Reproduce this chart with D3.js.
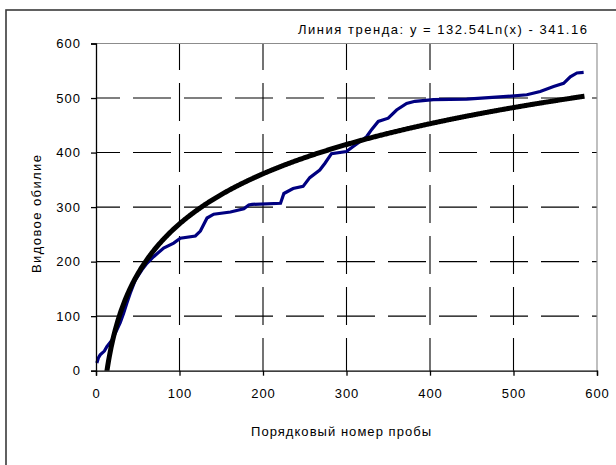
<!DOCTYPE html>
<html>
<head>
<meta charset="utf-8">
<script src="https://cdn.jsdelivr.net/npm/d3@7"></script>
<style>
  html, body { margin: 0; padding: 0; background: #fff; }
  svg { display: block; }
  text { font-family: "Liberation Sans", Arial, sans-serif; fill: #000; }
</style>
</head>
<body>
<svg id="chart" width="616" height="465"></svg>
<script>
// Cumulative species count by sample number
const sampleNo = [1, 3, 5, 10, 13, 19, 25, 29, 33, 37, 41, 47, 55, 61, 69, 81, 93, 101, 119, 125,
  133, 141, 161, 177, 183, 187, 221, 225, 236, 248, 256, 268, 274, 282, 300, 308, 324, 330, 338,
  350, 360, 372, 382, 404, 444, 492, 516, 532, 548, 560, 568, 576, 584];
const speciesCount = [14, 24, 29, 36, 44, 56, 75, 88, 105, 124, 142, 166, 185, 197, 209, 225, 234,
  243, 247, 256, 280, 287, 291, 297, 304, 305, 307, 325, 334, 338, 354, 368, 380, 398, 402, 411,
  429, 442, 457, 463, 478, 490, 494, 497, 498, 503, 506, 512, 521, 527, 539, 546, 547];

// Logarithmic trend line: y = a·ln(x) + b, over the sample range
const trendA = 132.54;
const trendB = -341.16;
const trendFrom = 1;
const trendTo = 585;
const trendLabel = "Линия тренда: y = 132.54Ln(x) - 341.16";

const xTicks = [0, 100, 200, 300, 400, 500, 600];
const yTicks = [0, 100, 200, 300, 400, 500, 600];
const xTitle = "Порядковый номер пробы";
const yTitle = "Видовое обилие";

const svg = d3.select("#chart");

// outer chart frame
svg.append("rect")
  .attr("x", 6).attr("y", 10)
  .attr("width", 640).attr("height", 480)
  .attr("fill", "none").attr("stroke", "#3a3a3a").attr("stroke-width", 1.6);

const plotL = 96, plotR = 597, plotT = 43.5, plotB = 370.7;
const x = d3.scaleLinear().domain([0, 600]).range([plotL, plotR]);
const y = d3.scaleLinear().domain([0, 600]).range([plotB, plotT]);

// plot-area clip (values below 0 are cut off at the axis)
svg.append("defs").append("clipPath").attr("id", "plotClip")
  .append("rect")
  .attr("x", plotL - 10).attr("y", plotT - 10)
  .attr("width", plotR - plotL + 20).attr("height", plotB - plotT + 10);

// dashed gridlines
const grid = svg.append("g").attr("stroke", "#000").attr("stroke-width", 1.1);
grid.selectAll("line.h").data(yTicks.filter(d => d > 0 && d < 600)).join("line")
  .attr("class", "h")
  .attr("x1", x(0)).attr("x2", x(600))
  .attr("y1", d => y(d)).attr("y2", d => y(d))
  .attr("stroke-dasharray", "38,13").attr("stroke-dashoffset", 14);
grid.selectAll("line.v").data(xTicks.filter(d => d > 0 && d < 600)).join("line")
  .attr("class", "v")
  .attr("x1", d => x(d)).attr("x2", d => x(d))
  .attr("y1", y(600)).attr("y2", y(0))
  .attr("stroke-dasharray", "38,13").attr("stroke-dashoffset", 11.5);

// plot area border (top/right)
svg.append("path")
  .attr("d", `M${x(0)},${y(600)}H${x(600)}V${y(0)}`)
  .attr("fill", "none").attr("stroke", "#8c8c8c").attr("stroke-width", 1.1);

const line = d3.line().x(d => x(d[0])).y(d => y(d[1]));
const series = svg.append("g").attr("clip-path", "url(#plotClip)");

// observed species curve
const dataPts = sampleNo.map((s, i) => [s, speciesCount[i]]);
series.append("path")
  .datum(dataPts)
  .attr("d", line)
  .attr("fill", "none").attr("stroke", "#000080").attr("stroke-width", 3.2)
  .attr("stroke-linejoin", "miter");

// trend line
const trendPts = d3.range(trendFrom, trendTo + 1).map(v => [v, trendA * Math.log(v) + trendB]);
series.append("path")
  .datum(trendPts)
  .attr("d", line)
  .attr("fill", "none").attr("stroke", "#000").attr("stroke-width", 5)
  .attr("stroke-linecap", "butt");

// axes
const xAxis = d3.axisBottom(x).tickValues(xTicks).tickSize(5).tickPadding(13);
const yAxis = d3.axisLeft(y).tickValues(yTicks).tickSize(5).tickPadding(10);

const gx = svg.append("g").attr("transform", `translate(0,${plotB})`).call(xAxis);
const gy = svg.append("g").attr("transform", `translate(${plotL},0)`).call(yAxis);
[gx, gy].forEach(g => {
  g.select(".domain").attr("stroke", "#000").attr("stroke-width", 1.3);
  g.selectAll(".tick line").attr("stroke", "#000").attr("stroke-width", 1.3);
  g.selectAll(".tick text")
    .attr("font-family", "Liberation Sans, Arial, sans-serif")
    .attr("font-size", 13).attr("letter-spacing", 1).attr("fill", "#000");
});

// trend equation label
svg.append("text")
  .attr("x", 587).attr("y", 34)
  .attr("text-anchor", "end")
  .attr("font-size", 13)
  .attr("textLength", 289).attr("lengthAdjust", "spacing")
  .text(trendLabel);

// axis titles
svg.append("text")
  .attr("x", 341).attr("y", 436)
  .attr("text-anchor", "middle")
  .attr("font-size", 13)
  .attr("textLength", 180).attr("lengthAdjust", "spacing")
  .text(xTitle);

svg.append("text")
  .attr("transform", `translate(41,214) rotate(-90)`)
  .attr("text-anchor", "middle")
  .attr("font-size", 13)
  .attr("textLength", 118).attr("lengthAdjust", "spacing")
  .text(yTitle);
</script>
</body>
</html>
